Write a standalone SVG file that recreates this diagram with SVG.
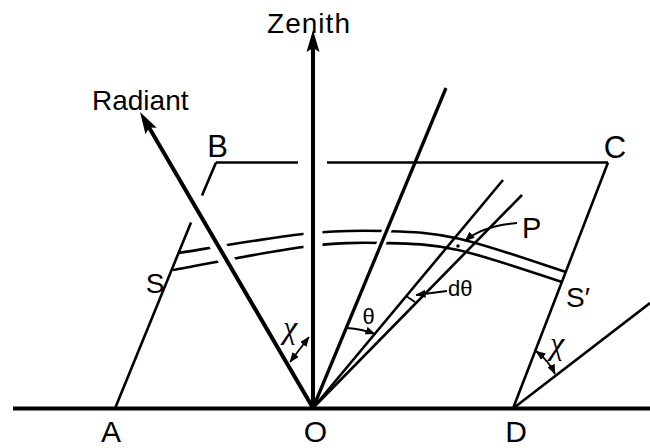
<svg xmlns="http://www.w3.org/2000/svg" width="650" height="448" viewBox="0 0 650 448">
  <style>
    .lbl { font-family: "Liberation Sans", Arial, sans-serif; fill: #000; }
    .greek { font-family: "Liberation Serif", "DejaVu Serif", serif; font-style: italic; fill: #000; }
    .thick { stroke: #000; stroke-width: 4; fill: none; }
    .mid { stroke: #000; stroke-width: 3.3; fill: none; }
    .thin { stroke: #000; stroke-width: 2.6; fill: none; }
    .fine { stroke: #000; stroke-width: 1.8; fill: none; }
  </style>
  <defs>
    <marker id="bigArrow" viewBox="0 -7 22 14" refX="5" refY="0" markerWidth="22" markerHeight="14" markerUnits="userSpaceOnUse" orient="auto">
      <path d="M0,-6.5 L22,0 L0,6.5 L4,0 Z" fill="#000"/>
    </marker>
    <marker id="smArrow" viewBox="0 -4 10 8" refX="9.5" refY="0" markerWidth="10" markerHeight="8" markerUnits="userSpaceOnUse" orient="auto-start-reverse">
      <path d="M0,-4 L10,0 L0,4 Z" fill="#000"/>
    </marker>
    <mask id="gaps" maskUnits="userSpaceOnUse" x="0" y="0" width="650" height="448">
      <rect width="650" height="448" fill="#fff"/>
      <g stroke="#000">
        <line x1="213" y1="237" x2="234" y2="273" stroke-width="16"/>
        <line x1="313" y1="220" x2="313" y2="260" stroke-width="19"/>
        <line x1="392" y1="218" x2="376" y2="256" stroke-width="9"/>
      </g>
    </mask>
  </defs>
  <rect width="650" height="448" fill="#fff"/>

  <g id="connectors">
    <!-- ground -->
    <path class="thick" d="M13,408.5 H650"/>
    <!-- parallelogram ABCD -->
    <path class="thin" d="M216,162.5 H298 M327,162.5 H608"/>
    <path class="thin" d="M216,162.5 L202,195.5 M191,222.5 L115,408.5"/>
    <path class="thin" d="M608,162.5 L513,408.5"/>
    <path class="thin" d="M513,408.5 L650,303"/>
    <!-- atmospheric layer arcs -->
    <g mask="url(#gaps)">
      <path class="thin" d="M178.5,253 C199.3,249.8 268.9,237.7 303,234 C337.1,230.3 357.2,230.25 383,231 C408.8,231.75 427.5,231.7 458,238.5 C488.5,245.3 548,266.4 566,272"/>
      <path class="thin" d="M173,270 C194.7,266.2 268,251.5 303,247 C338,242.5 357.2,242.5 383,243 C408.8,243.5 428.2,243.5 458,250 C487.8,256.5 544.7,276.7 562,282"/>
    </g>
    <!-- rays from O -->
    <path class="thick" d="M313,408 V47" stroke-width="4.5" marker-end="url(#bigArrow)"/>
    <path class="thick" d="M313,408 L148.6,126.7" marker-end="url(#bigArrow)"/>
    <path class="mid" d="M313,408 L446,88"/>
    <path class="thin" d="M313,408 L503,180"/>
    <path class="thin" d="M313,408 L522,195"/>
    <!-- angle indicators -->
    <path class="fine" d="M290,362 L309,337" stroke-width="2" marker-start="url(#smArrow)" marker-end="url(#smArrow)"/>
    <path class="fine" d="M347,328 Q362,329 375,334" stroke-width="2.4" marker-end="url(#smArrow)"/>
    <path class="fine" d="M406,296 L415,302"/>
    <path class="fine" d="M447,291 L416,295" marker-end="url(#smArrow)"/>
    <path class="fine" d="M517,223 Q482,226 465,241" stroke-width="2.2" marker-end="url(#smArrow)"/>
    <path class="fine" d="M536,351 Q549,361 555,374" stroke-width="2" marker-start="url(#smArrow)" marker-end="url(#smArrow)"/>
    <circle cx="458" cy="246" r="1.8" fill="#000"/>
  </g>

  <g id="zenith"><text class="lbl" x="308.5" y="33" font-size="28" text-anchor="middle" textLength="83">Zenith</text></g>
  <g id="radiant"><text class="lbl" x="92" y="110" font-size="28">Radiant</text></g>
  <g id="B"><text class="lbl" x="217.5" y="157" font-size="31" text-anchor="middle">B</text></g>
  <g id="C"><text class="lbl" x="615" y="158" font-size="31" text-anchor="middle">C</text></g>
  <g id="S"><text class="lbl" x="155" y="293" font-size="28" text-anchor="middle">S</text></g>
  <g id="S-prime"><text class="lbl" x="566" y="307" font-size="28">S′</text></g>
  <g id="P"><text class="lbl" x="522" y="238" font-size="29">P</text></g>
  <g id="A"><text class="lbl" x="111" y="442" font-size="30" text-anchor="middle">A</text></g>
  <g id="O"><text class="lbl" x="315.5" y="442" font-size="30" text-anchor="middle">O</text></g>
  <g id="D"><text class="lbl" x="516" y="442" font-size="30" text-anchor="middle">D</text></g>
  <g id="theta"><text class="lbl" x="368.5" y="324" font-size="22" text-anchor="middle">θ</text></g>
  <g id="dtheta"><text class="lbl" x="448" y="296" font-size="22">dθ</text></g>
  <g id="chi-O"><text class="greek" x="290" y="338" font-size="32" text-anchor="middle">χ</text></g>
  <g id="chi-D"><text class="greek" x="557" y="354" font-size="32" text-anchor="middle">χ</text></g>
</svg>
